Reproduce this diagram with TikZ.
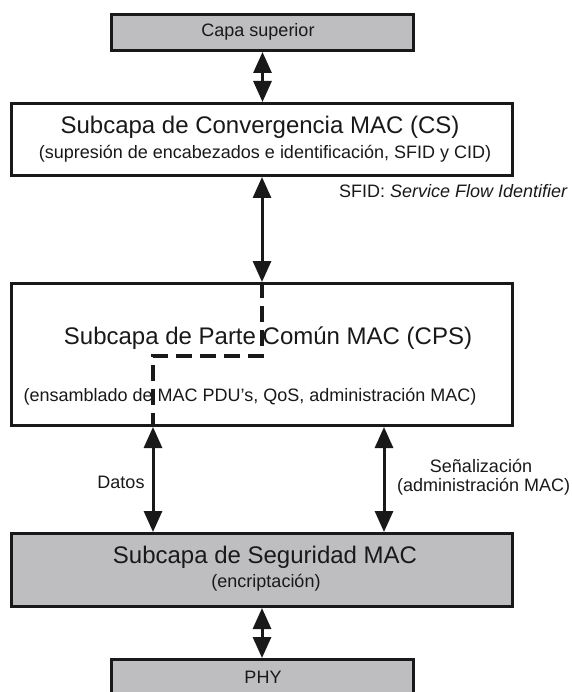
\documentclass[tikz,border=0pt]{standalone}
\usepackage{fontspec}
\setmainfont{Liberation Sans}
\usetikzlibrary{arrows.meta}
\definecolor{layergray}{RGB}{190,190,192}
\definecolor{ink}{RGB}{25,25,25}
\tikzset{
  layer/.style={draw=ink, line width=3pt, inner sep=0pt, anchor=north west},
  graylayer/.style={layer, fill=layergray},
  whitelayer/.style={layer, fill=white},
  bigtext/.style={inner sep=0pt, anchor=base, text=ink, font=\fontsize{24}{28}\selectfont},
  smalltext/.style={inner sep=0pt, anchor=base, text=ink, font=\fontsize{18}{22}\selectfont},
  dbl/.style={draw=ink, line width=3pt,
    {Triangle[length=21pt,width=18pt]}-{Triangle[length=21pt,width=18pt]}},
  datapath/.style={draw=ink, line width=3.2pt, dash pattern=on 16pt off 8pt}
}
\begin{document}
\begin{tikzpicture}[x=1pt,y=-1pt]
\clip (0,0) rectangle (571,692);
\fill[white] (0,0) rectangle (571,692);

% layer boxes
\node[graylayer, minimum width=302pt, minimum height=36pt] (capa) at (110,13) {};
\node[whitelayer, minimum width=501pt, minimum height=72pt] (cs) at (10,102) {};
\node[whitelayer, minimum width=501pt, minimum height=142pt] (cps) at (10,282) {};
\node[graylayer, minimum width=501pt, minimum height=73pt] (sec) at (10,532) {};
\node[graylayer, minimum width=302pt, minimum height=50pt] (phy) at (110,658) {};

% texts inside the boxes
\node[smalltext] (capaT) at (258,36.5) {Capa superior};
\node[bigtext] (csT) at (260,134) {Subcapa de Convergencia MAC (CS)};
\node[smalltext] (csS) at (265,158.5) {(supresión de encabezados e identificación, SFID y CID)};
\node[bigtext] (cpsT) at (268,344) {Subcapa de Parte Común MAC (CPS)};
\node[smalltext] (cpsS) at (250,401.5) {(ensamblado de MAC PDU's, QoS, administración MAC)};
\node[bigtext] (secT) at (265,563) {Subcapa de Seguridad MAC};
\node[smalltext] (secS) at (266,587.5) {(encriptación)};
\node[smalltext] (phyT) at (263,683.5) {PHY};

% notes beside the arrows
\node[smalltext, anchor=base west] (sfid) at (339,198) {SFID: \textit{Service Flow Identifier}};
\node[smalltext] (datos) at (121,488.5) {Datos};
\node[smalltext] (senal) at (481,472) {Señalización};
\node[smalltext, anchor=base west] (senalS) at (397,491) {(administración MAC)};

% anchor points of the connectors
\coordinate (midx) at (262,0);
\coordinate (datx) at (153,0);
\coordinate (sigx) at (384,0);
\coordinate (bend) at (262,356);

% connectors
\draw[dbl] (capa.south) -- (capa.south |- cs.north);
\draw[dbl] (midx |- cs.south) -- (midx |- cps.north);
\draw[dbl] (datx |- cps.south) -- (datx |- sec.north);
\draw[dbl] (sigx |- cps.south) -- (sigx |- sec.north);
\draw[dbl] (midx |- sec.south) -- (midx |- phy.north);
\draw[datapath] (midx |- cps.north) -- (bend) -| (datx |- cps.south);
\end{tikzpicture}
\end{document}
